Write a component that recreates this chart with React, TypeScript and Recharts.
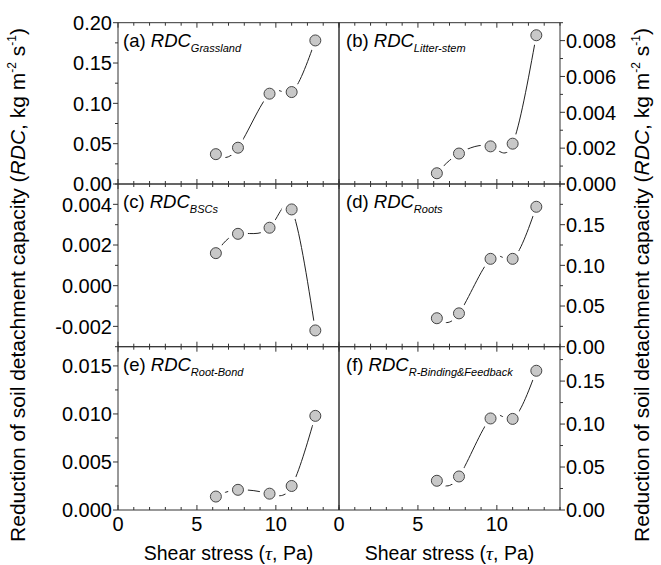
import React from 'react';
import { LineChart, Line, XAxis, YAxis } from 'recharts';

// ---------- data ----------
const shearStress = [6.2, 7.6, 9.6, 11.0, 12.5];
const rdcGrassland = [0.037, 0.045, 0.112, 0.114, 0.178];
const rdcLitterStem = [0.0006, 0.0017, 0.0021, 0.00225, 0.0083];
const rdcBSCs = [0.0016, 0.00255, 0.00285, 0.00375, -0.0022];
const rdcRoots = [0.035, 0.041, 0.108, 0.108, 0.172];
const rdcRootBond = [0.0014, 0.0021, 0.0017, 0.0025, 0.0098];
const rdcBindingFeedback = [0.034, 0.039, 0.1065, 0.106, 0.162];

const xTicks = [0, 1, 2, 3, 4, 5, 6, 7, 8, 9, 10, 11, 12, 13, 14];
const xMajorTicks = [0, 5, 10];
const xTickLabels = [0, 5, 10];

const yTicksA = [0, 0.025, 0.05, 0.075, 0.1, 0.125, 0.15, 0.175, 0.2];
const yMajorA = [0, 0.05, 0.1, 0.15, 0.2];
const yLabelsA = [0, 0.05, 0.1, 0.15, 0.2];

const yTicksB = [0, 0.001, 0.002, 0.003, 0.004, 0.005, 0.006, 0.007, 0.008, 0.009];
const yMajorB = [0, 0.002, 0.004, 0.006, 0.008];
const yLabelsB = [0, 0.002, 0.004, 0.006, 0.008];

const yTicksC = [-0.003, -0.002, -0.001, 0, 0.001, 0.002, 0.003, 0.004, 0.005];
const yMajorC = [-0.002, 0, 0.002, 0.004];
const yLabelsC = [-0.002, 0, 0.002, 0.004];

const yTicksD = [0, 0.025, 0.05, 0.075, 0.1, 0.125, 0.15, 0.175, 0.2];
const yMajorD = [0, 0.05, 0.1, 0.15, 0.2];
const yLabelsD = [0, 0.05, 0.1, 0.15];

const yTicksE = [0, 0.0025, 0.005, 0.0075, 0.01, 0.0125, 0.015];
const yMajorE = [0, 0.005, 0.01, 0.015];
const yLabelsE = [0, 0.005, 0.01, 0.015];

const yTicksF = [0, 0.025, 0.05, 0.075, 0.1, 0.125, 0.15, 0.175];
const yMajorF = [0, 0.05, 0.1, 0.15];
const yLabelsF = [0, 0.05, 0.1, 0.15];

// ---------- layout ----------
const W = 661;
const H = 565;
const AX = 10;
const COLS = [
  [118, 339],
  [339, 560],
];
const ROWS = [
  [22.7, 184],
  [184, 346.7],
  [346.7, 510],
];
const AXIS = '#333';
const LINE = '#222';
const FONT = "Arial, 'Liberation Sans', sans-serif";

type Panel = {
  letter: string;
  sub: string;
  values: number[];
  col: number;
  row: number;
  domain: [number, number];
  ticks: number[];
  majors: number[];
  labels: number[];
  dec: number;
};

const panels: Panel[] = [
  { letter: '(a)', sub: 'Grassland', values: rdcGrassland, col: 0, row: 0, domain: [0, 0.2], ticks: yTicksA, majors: yMajorA, labels: yLabelsA, dec: 2 },
  { letter: '(b)', sub: 'Litter-stem', values: rdcLitterStem, col: 1, row: 0, domain: [0, 0.009], ticks: yTicksB, majors: yMajorB, labels: yLabelsB, dec: 3 },
  { letter: '(c)', sub: 'BSCs', values: rdcBSCs, col: 0, row: 1, domain: [-0.003, 0.005], ticks: yTicksC, majors: yMajorC, labels: yLabelsC, dec: 3 },
  { letter: '(d)', sub: 'Roots', values: rdcRoots, col: 1, row: 1, domain: [0, 0.2], ticks: yTicksD, majors: yMajorD, labels: yLabelsD, dec: 2 },
  { letter: '(e)', sub: 'Root-Bond', values: rdcRootBond, col: 0, row: 2, domain: [0, 0.017], ticks: yTicksE, majors: yMajorE, labels: yLabelsE, dec: 3 },
  { letter: '(f)', sub: 'R-Binding&Feedback', values: rdcBindingFeedback, col: 1, row: 2, domain: [0, 0.19], ticks: yTicksF, majors: yMajorF, labels: yLabelsF, dec: 2 },
];

const has = (arr: number[], v: number) => arr.some((m) => Math.abs(m - v) < 1e-9);

function XTick(props: any) {
  const { x, y, payload, dir, showLabel } = props;
  const v = payload.value;
  const len = has(xMajorTicks, v) ? 5 : 3;
  return (
    <g>
      <line x1={x} x2={x} y1={y} y2={y + dir * len} stroke={AXIS} strokeWidth={1} />
      {showLabel && has(xTickLabels, v) ? (
        <text x={x} y={y + 21} textAnchor="middle" fontSize={20} fill="#000" fontFamily={FONT}>
          {String(v)}
        </text>
      ) : null}
    </g>
  );
}

function YTick(props: any) {
  const { x, y, payload, side, p } = props;
  const v = payload.value;
  const len = has(p.majors, v) ? 5 : 3;
  const s = side === 'left' ? -1 : 1;
  return (
    <g>
      <line x1={x} x2={x + s * len} y1={y} y2={y} stroke={AXIS} strokeWidth={1} />
      {has(p.labels, v) ? (
        <text
          x={x + s * 6}
          y={y}
          dy="0.36em"
          textAnchor={side === 'left' ? 'end' : 'start'}
          fontSize={20}
          fill="#000"
          fontFamily={FONT}
        >
          {v.toFixed(p.dec)}
        </text>
      ) : null}
    </g>
  );
}

function PanelChart({ p }: { p: Panel }) {
  const [x0, x1] = COLS[p.col];
  const [y0, y1] = ROWS[p.row];
  const data = shearStress.map((x, i) => ({ x, y: p.values[i] }));
  const margin = { left: x0 - AX, right: W - x1 - AX, top: y0 - AX, bottom: H - y1 - AX };
  const tickSide = p.col === 0 ? 'left' : 'right';
  const frameSide = p.col === 0 ? 'right' : 'left';
  const axisLine = { stroke: AXIS, strokeWidth: 1 };
  return (
    <div style={{ position: 'absolute', left: 0, top: 0 }}>
      <LineChart width={W} height={H} data={data} margin={margin}>
        <XAxis
          xAxisId="b"
          type="number"
          dataKey="x"
          domain={[0, 14]}
          ticks={xTicks}
          allowDataOverflow
          interval={0}
          height={AX}
          orientation="bottom"
          tickLine={false}
          tickSize={0}
          tickMargin={0}
          axisLine={axisLine}
          tick={(t: any) => <XTick {...t} dir={-1} showLabel={p.row === 2} />}
        />
        <XAxis
          xAxisId="t"
          type="number"
          dataKey="x"
          domain={[0, 14]}
          ticks={xTicks}
          allowDataOverflow
          interval={0}
          height={AX}
          orientation="top"
          tickLine={false}
          tickSize={0}
          tickMargin={0}
          axisLine={axisLine}
          tick={(t: any) => <XTick {...t} dir={1} showLabel={false} />}
        />
        <YAxis
          yAxisId="v"
          type="number"
          domain={p.domain}
          ticks={p.ticks}
          allowDataOverflow
          interval={0}
          width={AX}
          orientation={tickSide}
          tickLine={false}
          tickSize={0}
          tickMargin={0}
          axisLine={axisLine}
          tick={(t: any) => <YTick {...t} side={tickSide} p={p} />}
        />
        <YAxis
          yAxisId="f"
          type="number"
          domain={p.domain}
          ticks={p.ticks}
          allowDataOverflow
          interval={0}
          width={AX}
          orientation={frameSide}
          tickLine={false}
          tickSize={0}
          tickMargin={0}
          axisLine={axisLine}
          tick={false}
        />
        <Line
          xAxisId="t"
          yAxisId="f"
          dataKey="y"
          type="linear"
          stroke="none"
          dot={false}
          activeDot={false}
          isAnimationActive={false}
        />
        <Line
          xAxisId="b"
          yAxisId="v"
          dataKey="y"
          type="natural"
          stroke={LINE}
          strokeWidth={1}
          activeDot={false}
          isAnimationActive={false}
          dot={(d: any) => (
            <g key={`dot-${d.index}`}>
              <circle cx={d.cx} cy={d.cy} r={10} fill="#fff" />
              <circle cx={d.cx} cy={d.cy} r={5.5} fill="#c8c8c8" stroke="#444" strokeWidth={1} />
            </g>
          )}
        />
      </LineChart>
    </div>
  );
}

function YTitle({ x }: { x: number }) {
  const cy = 285;
  return (
    <text
      x={x}
      y={cy}
      transform={`rotate(-90 ${x} ${cy})`}
      textAnchor="middle"
      fontSize={21}
      fontFamily={FONT}
      fill="#000"
    >
      Reduction of soil detachment capacity (<tspan fontStyle="italic">RDC</tspan>, kg m
      <tspan fontSize={12} dy={-9}>-2</tspan>
      <tspan dy={9}> s</tspan>
      <tspan fontSize={12} dy={-9}>-1</tspan>
      <tspan dy={9}>)</tspan>
    </text>
  );
}

function XTitle({ cx }: { cx: number }) {
  return (
    <text x={cx} y={560} textAnchor="middle" fontSize={19.5} fontFamily={FONT} fill="#000">
      Shear stress (
      <tspan fontStyle="italic" fontFamily="'Liberation Serif', 'Times New Roman', serif">τ</tspan>, Pa)
    </text>
  );
}

export default function App() {
  return (
    <div style={{ position: 'absolute', left: 0, top: 0, width: W, height: H, background: '#fff' }}>
      {panels.map((p) => (
        <PanelChart key={p.letter} p={p} />
      ))}
      <svg width={W} height={H} style={{ position: 'absolute', left: 0, top: 0, pointerEvents: 'none' }}>
        {panels.map((p) => (
          <text
            key={`lab-${p.letter}`}
            x={COLS[p.col][0] + (p.col === 0 ? 5 : 7)}
            y={ROWS[p.row][0] + 24}
            fontSize={18.5}
            fontFamily={FONT}
            fill="#000"
          >
            {p.letter} <tspan fontStyle="italic">RDC</tspan>
            <tspan fontStyle="italic" fontSize={11} dy={5}>{p.sub}</tspan>
          </text>
        ))}
        <YTitle x={25} />
        <YTitle x={649} />
        <XTitle cx={(COLS[0][0] + COLS[0][1]) / 2} />
        <XTitle cx={(COLS[1][0] + COLS[1][1]) / 2} />
      </svg>
    </div>
  );
}
